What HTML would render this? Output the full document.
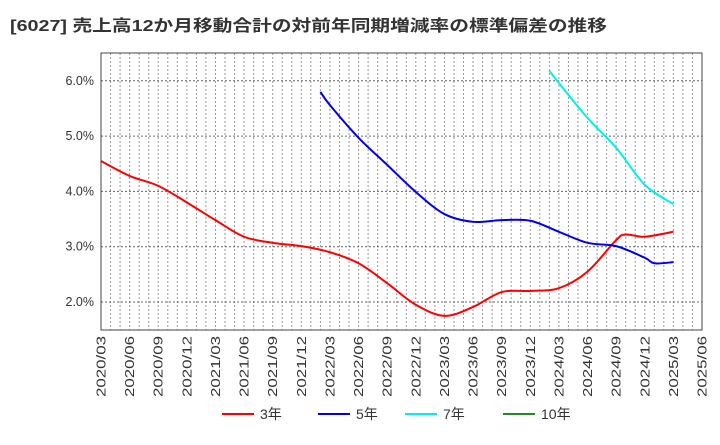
<!DOCTYPE html>
<html><head><meta charset="utf-8"><style>
body{margin:0;background:#fff;width:720px;height:440px;overflow:hidden;font-family:"Liberation Sans","Noto Sans CJK JP",sans-serif}
</style></head><body>
<svg id="c" width="720" height="440" xmlns="http://www.w3.org/2000/svg"></svg>
<script>
const tickLabels=["2020/03","2020/06","2020/09","2020/12","2021/03","2021/06","2021/09","2021/12","2022/03","2022/06","2022/09","2022/12","2023/03","2023/06","2023/09","2023/12","2024/03","2024/06","2024/09","2024/12","2025/03","2025/06"];
const yTicks=[2,3,4,5,6];
const m3=[0,3,6,9,12,15,18,21,24,27,30,33,36,39,42,45,48,51,54,55,57,60];
const v3=[4.55,4.28,4.10,3.80,3.48,3.18,3.07,3.01,2.90,2.70,2.34,1.95,1.75,1.91,2.18,2.20,2.25,2.55,3.12,3.22,3.18,3.27];
const m5=[23,24,27,30,33,36,39,42,45,48,51,54,57,58,60];
const v5=[5.80,5.56,4.97,4.48,3.99,3.59,3.45,3.48,3.47,3.27,3.07,3.01,2.80,2.70,2.72];
const m7=[47,48,51,54,57,60];
const v7=[6.18,5.96,5.33,4.79,4.12,3.77];
const NS="http://www.w3.org/2000/svg",svg=document.getElementById('c');
const L=101,R=702,T=53,B=330;
const x=m=>L+(R-L)*m/63, y=v=>302-(v-2)*55.3;
function el(t,a,p){const e=document.createElementNS(NS,t);for(const k in a)e.setAttribute(k,a[k]);(p||svg).appendChild(e);return e;}
const title=el('text',{x:10,y:31,'font-size':16,'font-weight':'bold',fill:'#333',textLength:597,lengthAdjust:'spacingAndGlyphs'});
title.textContent='[6027]  売上高12か月移動合計の対前年同期増減率の標準偏差の推移';


el('rect',{x:L,y:T,width:R-L,height:B-T,fill:'#fff',stroke:'none'});
for(let m=1;m<63;m++){const g=el('line',{x1:x(m),x2:x(m),y1:T,y2:B,stroke:'#999','stroke-dasharray':'2,2','stroke-width':1});

}
yTicks.forEach(v=>{const g=el('line',{x1:L,x2:R,y1:y(v),y2:y(v),stroke:'#666','stroke-dasharray':'2,2'});


const t=el('text',{x:L-7,y:y(v)+4,'font-size':12.5,'text-anchor':'end',fill:'#333'});t.textContent=v.toFixed(1)+'%';

});
const fr=el('rect',{x:L,y:T,width:R-L,height:B-T,fill:'none',stroke:'#444'});


tickLabels.forEach((s,i)=>{const xx=x(i*3);const t=el('text',{transform:`translate(${xx+4.5},${B+6}) rotate(-90)`,'font-size':12.5,'text-anchor':'end',fill:'#333',textLength:61,lengthAdjust:'spacingAndGlyphs'});t.textContent=s;

});
function path(ms,vs){const p=ms.map((m,i)=>[x(m),y(vs[i])]);let d=`M${p[0][0]},${p[0][1]}`;
for(let i=0;i<p.length-1;i++){const p0=p[i-1]||p[i],p1=p[i],p2=p[i+1],p3=p[i+2]||p2;
d+=` C${p1[0]+(p2[0]-p0[0])/6},${p1[1]+(p2[1]-p0[1])/6} ${p2[0]-(p3[0]-p1[0])/6},${p2[1]-(p3[1]-p1[1])/6} ${p2[0]},${p2[1]}`;}return d;}
[[m3,v3,'#ff0000','line-3y'],[m5,v5,'#0000ee','line-5y'],[m7,v7,'#00eeee','line-7y']].forEach(s=>{
const p=el('path',{d:path(s[0],s[1]),fill:'none',stroke:s[2],'stroke-width':2});

});
const leg=[['3年','#ff0000',222],['5年','#0000ee',318],['7年','#00eeee',405],['10年','#228b22',503]];
leg.forEach(l=>{const g=el('g',{});


el('line',{x1:l[2],x2:l[2]+32,y1:414,y2:414,stroke:l[1],'stroke-width':2},g);
const t=el('text',{x:l[2]+38,y:419,'font-size':14,fill:'#333'},g);t.textContent=l[0];});
</script>
</body></html>
